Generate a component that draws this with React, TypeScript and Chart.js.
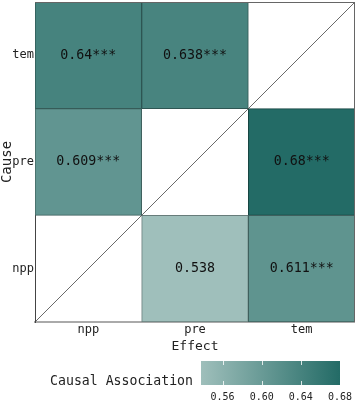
import React, { useEffect, useRef } from "react";
import { Chart, registerables } from "chart.js";

Chart.register(...registerables);

// Effects along x, causes along y (bottom to top)
const effects = ["npp", "pre", "tem"];
const causes = ["npp", "pre", "tem"];

// Causal association values per cause row (index matches effects), null on diagonal
const nppRow: (number | null)[] = [null, 0.538, 0.611];
const preRow: (number | null)[] = [0.609, null, 0.68];
const temRow: (number | null)[] = [0.64, 0.638, null];

// Value labels as printed, with significance stars
const nppLabels = ["", "0.538", "0.611***"];
const preLabels = ["0.609***", "", "0.68***"];
const temLabels = ["0.64***", "0.638***", ""];

const rows = [nppRow, preRow, temRow];
const rowLabels = [nppLabels, preLabels, temLabels];

// Colour scale
const colorMin = 0.538;
const colorMax = 0.68;
const colorbarTicks = [0.56, 0.6, 0.64, 0.68];
const colorbarTitle = "Causal Association";

const LIGHT = [159, 191, 187];
const DARK = [35, 107, 102];
const FONT = "'DejaVu Sans Mono', monospace";

function mixColor(v: number, darken = 0) {
  const t = Math.max(0, Math.min(1, (v - colorMin) / (colorMax - colorMin)));
  const c = LIGHT.map((l, i) => Math.round((l + (DARK[i] - l) * t) * (1 - darken)));
  return `rgb(${c[0]},${c[1]},${c[2]})`;
}

export default function App() {
  const ref = useRef<HTMLCanvasElement>(null);
  useEffect(() => {
    document.body.style.margin = "0";
    const canvas = ref.current!;
    const overlay = {
      id: "overlay",
      afterDatasetsDraw(chart: any) {
        const { ctx, chartArea: a, scales } = chart;
        const x = scales.x;
        const y = scales.y;
        ctx.save();
        // diagonal
        ctx.strokeStyle = "#444";
        ctx.lineWidth = 0.8;
        ctx.beginPath();
        ctx.moveTo(a.left, a.bottom);
        ctx.lineTo(a.right, a.top);
        ctx.stroke();
        // top/right frame
        ctx.strokeStyle = "#666";
        ctx.lineWidth = 1;
        ctx.beginPath();
        ctx.moveTo(a.left, a.top + 0.5);
        ctx.lineTo(a.right, a.top + 0.5);
        ctx.moveTo(a.right - 0.5, a.top);
        ctx.lineTo(a.right - 0.5, a.bottom);
        ctx.stroke();
        // cell labels
        ctx.fillStyle = "#111";
        ctx.font = `13.3px ${FONT}`;
        ctx.textAlign = "center";
        ctx.textBaseline = "middle";
        rowLabels.forEach((labs, r) => {
          labs.forEach((s, c) => {
            if (!s) return;
            ctx.fillText(s, x.getPixelForValue(c), y.getPixelForValue(r + 0.5));
          });
        });
        ctx.restore();
      },
      afterDraw(chart: any) {
        const { ctx } = chart;
        const cbLeft = 201;
        const cbRight = 340;
        const cbTop = 361;
        const cbBottom = 385;
        const px = (v: number) => cbLeft + ((v - colorMin) / (colorMax - colorMin)) * (cbRight - cbLeft);
        ctx.save();
        const g = ctx.createLinearGradient(cbLeft, 0, cbRight, 0);
        g.addColorStop(0, mixColor(colorMin));
        g.addColorStop(1, mixColor(colorMax));
        ctx.fillStyle = g;
        ctx.fillRect(cbLeft, cbTop, cbRight - cbLeft, cbBottom - cbTop);
        ctx.strokeStyle = "rgba(255,255,255,0.8)";
        ctx.lineWidth = 1;
        colorbarTicks.forEach((t) => {
          const xp = Math.round(px(t)) + 0.5;
          ctx.beginPath();
          ctx.moveTo(xp, cbTop);
          ctx.lineTo(xp, cbTop + 4);
          ctx.moveTo(xp, cbBottom);
          ctx.lineTo(xp, cbBottom - 4);
          ctx.stroke();
        });
        ctx.fillStyle = "#222";
        ctx.font = `10px ${FONT}`;
        ctx.textAlign = "center";
        ctx.textBaseline = "middle";
        colorbarTicks.forEach((t) => {
          ctx.fillText(t.toFixed(2), px(t), 397);
        });
        ctx.font = `13.2px ${FONT}`;
        ctx.textAlign = "right";
        ctx.fillText(colorbarTitle, 193, 382);
        ctx.restore();
      },
    };

    const chart = new Chart(canvas, {
      type: "bar",
      data: {
        labels: effects,
        datasets: causes.map((c, r) => ({
          label: c,
          data: rows[r].map((v) => (v == null ? null : [r, r + 1])) as any,
          backgroundColor: rows[r].map((v) => (v == null ? "rgba(0,0,0,0)" : mixColor(v))),
          borderColor: rows[r].map((v) => (v == null ? "rgba(0,0,0,0)" : mixColor(v, 0.35))),
          borderWidth: 1,
          borderSkipped: false,
          grouped: false,
          barPercentage: 1,
          categoryPercentage: 1,
        })),
      },
      options: {
        responsive: false,
        animation: false,
        devicePixelRatio: 1,
        layout: { padding: { top: 2, right: 0, left: 0, bottom: 0 } },
        plugins: { legend: { display: false }, tooltip: { enabled: false } },
        scales: {
          x: {
            type: "category",
            offset: true,
            grid: { display: false, drawTicks: false },
            border: { display: true, color: "#aaa", width: 2 },
            ticks: { font: { family: FONT, size: 12 }, color: "#222", padding: 1 },
            title: {
              display: true,
              text: "Effect",
              font: { family: FONT, size: 13 },
              color: "#222",
              padding: { top: 0, bottom: 51 },
            },
            afterFit: (s: any) => {
              s.height = 83;
              s.paddingLeft = 0;
              s.paddingRight = 0;
            },
          },
          y: {
            type: "linear",
            min: 0,
            max: 3,
            afterBuildTicks: (s: any) => {
              s.ticks = [0.5, 1.5, 2.5].map((v) => ({ value: v }));
            },
            afterFit: (s: any) => {
              s.width = 35;
              s.paddingTop = 0;
              s.paddingBottom = 0;
            },
            grid: { display: false, drawTicks: false },
            border: { display: true, color: "#444", width: 1 },
            ticks: {
              font: { family: FONT, size: 12 },
              color: "#222",
              padding: 1,
              callback: (v: any) => causes[Math.floor(Number(v))],
            },
            title: {
              display: true,
              text: "Cause",
              font: { family: FONT, size: 14, lineHeight: 1 },
              color: "#222",
              padding: 0,
            },
          },
        },
      },
      plugins: [overlay],
    });
    return () => chart.destroy();
  }, []);
  return (
    <div style={{ width: 355, height: 405 }}>
      <canvas ref={ref} width={355} height={405} style={{ display: "block" }} />
    </div>
  );
}
